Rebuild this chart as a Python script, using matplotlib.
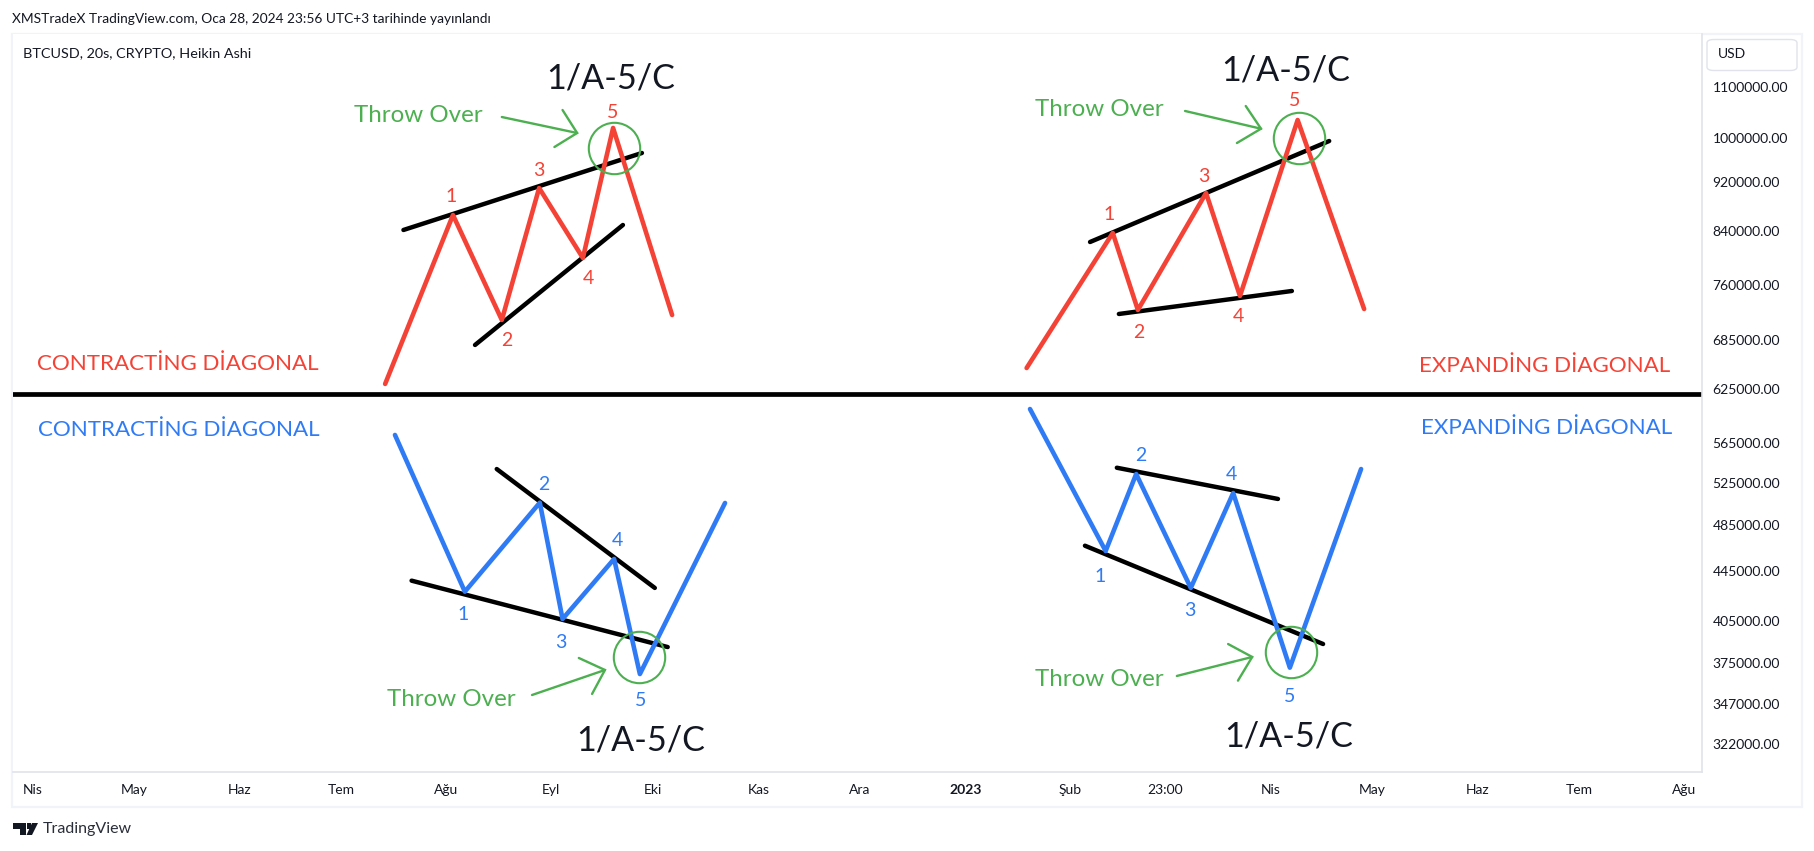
import matplotlib
matplotlib.use("Agg")
import matplotlib.pyplot as plt
from matplotlib.patches import Rectangle, FancyBboxPatch, Polygon

W, H = 1815, 851
FONT = ["Lato", "DejaVu Sans"]
plt.rcParams["font.family"] = FONT

# ---- data: day number since 2022-04-01, price in USD ----
a_wave_days = [104.0, 124.0, 138.4, 149.4, 162.3, 171.2, 188.6]
a_wave_price = [631200, 865600, 711400, 910400, 798800, 1018500, 718000]
a_upper_days = [109.4, 179.7]
a_upper_price = [841700, 972000]
a_lower_days = [130.5, 174.1]
a_lower_price = [678900, 849600]
a_circle = (171.5, 981100)
a_arrow_days = [138.4, 160.6, 156.3, 153.9]
a_arrow_price = [1039600, 1009000, 1053300, 982900]

b_wave_days = [293.1, 318.5, 325.9, 346.0, 356.0, 373.0, 392.6]
b_wave_price = [650300, 837000, 724800, 902000, 744000, 1033800, 726100]
b_upper_days = [311.8, 382.3]
b_upper_price = [823000, 994000]
b_lower_days = [320.3, 371.3]
b_lower_price = [719400, 751000]
b_circle = (373.4, 1000200)
b_arrow_days = [339.8, 362.2, 357.7, 355.1]
b_arrow_price = [1051400, 1017100, 1061200, 990300]

c_wave_days = [106.9, 127.5, 149.6, 156.3, 171.5, 179.1, 204.2]
c_wave_price = [573800, 428100, 505600, 406800, 455100, 367000, 505300]
c_upper_days = [136.9, 183.5]
c_upper_price = [538400, 431100]
c_lower_days = [111.8, 187.3]
c_lower_price = [437000, 386000]
c_circle = (178.8, 379100)
c_arrow_days = [147.3, 168.8, 161.1, 165.0]
c_arrow_price = [352900, 369800, 378200, 353600]

d_wave_days = [294.1, 316.4, 325.4, 341.5, 354.0, 370.7, 391.7]
d_wave_price = [602300, 461900, 533400, 431100, 514800, 371400, 538400]
d_upper_days = [319.7, 367.2]
d_upper_price = [539700, 509100]
d_lower_days = [310.3, 380.5]
d_lower_price = [466500, 388200]
d_circle = (371.0, 382500)
d_arrow_days = [337.4, 359.6, 352.5, 355.4]
d_arrow_price = [365700, 378900, 388200, 362500]

divider_price = 620000

price_ticks = [1100000, 1000000, 920000, 840000, 760000, 685000, 625000, 565000,
               525000, 485000, 445000, 405000, 375000, 347000, 322000]
month_days = [0, 30, 61, 91, 122, 153, 183, 214, 244, 275, 306, 334, 365, 395, 426, 456, 487]
month_labels = ["Nis", "May", "Haz", "Tem", "Ağu", "Eyl", "Eki", "Kas", "Ara", "2023",
                "Şub", "23:00", "Nis", "May", "Haz", "Tem", "Ağu"]

RED, BLUE, GREEN = "#f44336", "#2f7bf5", "#4caf50"
TXT = "#131722"
BORDER = "#e0e3eb"
OUTER = "#f0f3fa"

fig = plt.figure(figsize=(W / 100, H / 100), dpi=100, facecolor="white")


def X(x):
    return x / W


def Y(y):
    return 1 - y / H


def label(x, y, s, size, color=TXT, ha="center", **kw):
    fig.text(X(x), Y(y), s, fontsize=size, color=color, ha=ha, va="center", **kw)


# chrome
fig.add_artist(Rectangle((X(12), Y(807)), (1802 - 12) / W, (807 - 34) / H, transform=fig.transFigure,
                         fc="white", ec=OUTER, lw=1.6, zorder=0))

ax = fig.add_axes([X(13), Y(772), (1702 - 13) / W, (772 - 34) / H])
ax.set_yscale("log")
ax.set_xlim(-5.7, 492.2)
ax.set_ylim(305600, 1214100)
for s in ("top", "left"):
    ax.spines[s].set_visible(False)
ax.spines["right"].set_color(BORDER)
ax.spines["bottom"].set_color(BORDER)
ax.spines["right"].set_linewidth(1.2)
ax.spines["bottom"].set_linewidth(1.2)
ax.yaxis.tick_right()
ax.set_yticks(price_ticks)
ax.set_yticklabels([f"{p:.2f}" for p in price_ticks])
ax.minorticks_off()
ax.tick_params(axis="y", length=0, pad=7.5, labelsize=10, labelcolor=TXT)
ax.set_xticks(month_days)
ax.set_xticklabels(month_labels)
ax.tick_params(axis="x", length=0, pad=8.5, labelsize=10, labelcolor=TXT)
for t in ax.get_xticklabels():
    if t.get_text() == "2023":
        t.set_fontweight("bold")
ax.grid(False)

ax.axhline(divider_price, color="black", lw=3.4, zorder=2)

panels = [
    (a_wave_days, a_wave_price, a_upper_days, a_upper_price, a_lower_days, a_lower_price,
     a_circle, a_arrow_days, a_arrow_price, RED),
    (b_wave_days, b_wave_price, b_upper_days, b_upper_price, b_lower_days, b_lower_price,
     b_circle, b_arrow_days, b_arrow_price, RED),
    (c_wave_days, c_wave_price, c_upper_days, c_upper_price, c_lower_days, c_lower_price,
     c_circle, c_arrow_days, c_arrow_price, BLUE),
    (d_wave_days, d_wave_price, d_upper_days, d_upper_price, d_lower_days, d_lower_price,
     d_circle, d_arrow_days, d_arrow_price, BLUE),
]
for wd, wp, ud, up, ld, lp, circ, ad, ap, col in panels:
    ax.plot(ud, up, color="black", lw=3.2, solid_capstyle="round", zorder=3)
    ax.plot(ld, lp, color="black", lw=3.2, solid_capstyle="round", zorder=3)
    ax.plot(wd, wp, color=col, lw=3.3, solid_capstyle="round", solid_joinstyle="round", zorder=4)
    ax.plot([circ[0]], [circ[1]], marker="o", ms=37, mfc="none", mec=GREEN, mew=1.5, zorder=5)
    ax.plot(ad[:2], ap[:2], color=GREEN, lw=1.7, solid_capstyle="round", zorder=5)
    ax.plot([ad[2], ad[1], ad[3]], [ap[2], ap[1], ap[3]], color=GREEN, lw=1.7,
            solid_capstyle="round", solid_joinstyle="miter", zorder=5)

# annotation texts
for x, y in [(611, 79), (1285.5, 71), (640.5, 741), (1288.7, 737)]:
    label(x, y, "1/A-5/C", 24.6)
for x, y in [(418.5, 116), (1099.5, 110), (451, 700), (1099, 680)]:
    label(x, y, "Throw Over", 17.4, color=GREEN)
label(37, 364.5, "CONTRACTİNG DİAGONAL", 16.1, color=RED, ha="left")
label(1670, 366.5, "EXPANDİNG DİAGONAL", 16.1, color=RED, ha="right")
label(38, 429.5, "CONTRACTİNG DİAGONAL", 16.1, color=BLUE, ha="left")
label(1672, 427.5, "EXPANDİNG DİAGONAL", 16.1, color=BLUE, ha="right")

red_marks = [(451, 197), (507, 340), (539, 171), (588, 279), (612.5, 113),
             (1109, 214), (1139, 332), (1204, 176), (1238, 317), (1295, 101)]
blue_marks = [(463, 614), (544, 485), (561, 642), (617, 540), (641, 700),
              (1100, 576), (1141, 455), (1190, 611), (1231, 474), (1290, 696)]
for i, (x, y) in enumerate(red_marks):
    label(x, y, str(i % 5 + 1), 14, color=RED)
for i, (x, y) in enumerate(blue_marks):
    label(x, y, str(i % 5 + 1), 14, color=BLUE)

# header and footer
label(12, 19, "XMSTradeX TradingView.com, Oca 28, 2024 23:56 UTC+3 tarihinde yayınlandı", 9.95, ha="left")
label(23, 53.5, "BTCUSD, 20s, CRYPTO, Heikin Ashi", 10.4, ha="left")
label(43, 829.5, "TradingView", 11.5, ha="left", color="#2a2e39")
fig.add_artist(FancyBboxPatch((X(1707), Y(70.5)), 90 / W, 31 / H, transform=fig.transFigure,
                              boxstyle="round,pad=0,rounding_size=0.004", fc="white", ec=BORDER, lw=1))
label(1718, 54.5, "USD", 10, ha="left")

# TradingView logo
logo = "#131722"
for pts in ([(13, 823), (26, 823), (26, 835), (20, 835), (20, 829), (13, 829)],
            [(32, 823), (38, 823), (32, 835), (26.5, 835)]):
    fig.add_artist(Polygon([(X(a), Y(b)) for a, b in pts], transform=fig.transFigure, fc=logo, ec="none"))
fig.add_artist(Rectangle((X(26.8), Y(829)), 4.2 / W, 6 / H, transform=fig.transFigure, fc=logo, ec="none"))

fig.savefig("out.png", dpi=100, facecolor="white")
